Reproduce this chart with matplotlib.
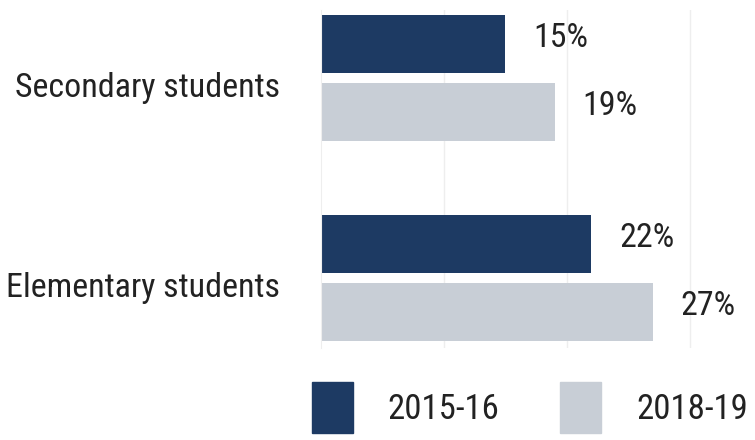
import matplotlib.pyplot as plt
from matplotlib import font_manager
from matplotlib.patches import Patch
import numpy as np

categories = ["Elementary students", "Secondary students"]
years = ["2015-16", "2018-19"]
values_2015 = [22, 15]
values_2018 = [27, 19]
colors = ["#1d3a63", "#c8ced6"]

# condensed font if we have one, the reference text is squeezed
names = {f.name for f in font_manager.fontManager.ttflist}
font = "Roboto Condensed" if "Roboto Condensed" in names else "Open Sans"
plt.rcParams['font.family'] = font
plt.rcParams['text.color'] = "#222222"

fig = plt.figure(figsize=(7.55, 4.4), dpi=100)
ax = fig.add_axes([321/755, 1-348/440, 1-321/755, (348-10)/440])

y = np.arange(len(categories))
h = 0.29
off = 0.17
ax.barh(y+off, values_2015, height=h, color=colors[0], label=years[0], zorder=2)
ax.barh(y-off, values_2018, height=h, color=colors[1], label=years[1], zorder=2)

ax.set_xlim(0, 35.3)
ax.set_ylim(-0.35, 1.34)
ax.set_xticks([10, 20, 30])
ax.set_yticks([])
ax.grid(axis='x', color='#eeeeee', lw=1)
ax.set_axisbelow(True)
ax.tick_params(length=0, labelbottom=False)
for s in ["top", "right", "bottom"]:
    ax.spines[s].set_visible(False)
ax.spines["left"].set_color("#eeeeee")

for yi, name in zip(y, categories):
    ax.text(-0.095, yi-0.05, name, ha='right', va='center', fontsize=24.5,
            transform=ax.get_yaxis_transform())

for vals, o in [(values_2015, off), (values_2018, -off)]:
    for yi, v in zip(y, vals):
        ax.annotate(f"{v}%", (v, yi+o), xytext=(20, 4), textcoords='offset points',
                    va='center', ha='left', fontsize=24.5, annotation_clip=False)

handles = [Patch(color=colors[0], label=years[0]), Patch(color=colors[1], label=years[1])]
fig.legend(handles=handles, loc='upper left', bbox_to_anchor=(312/755, 1-382/440),
           ncol=2, frameon=False, fontsize=25, borderpad=0, borderaxespad=0,
           handlelength=1.18, handleheight=1.9, handletextpad=1.0, columnspacing=1.75)

plt.savefig("out.png", dpi=100)
